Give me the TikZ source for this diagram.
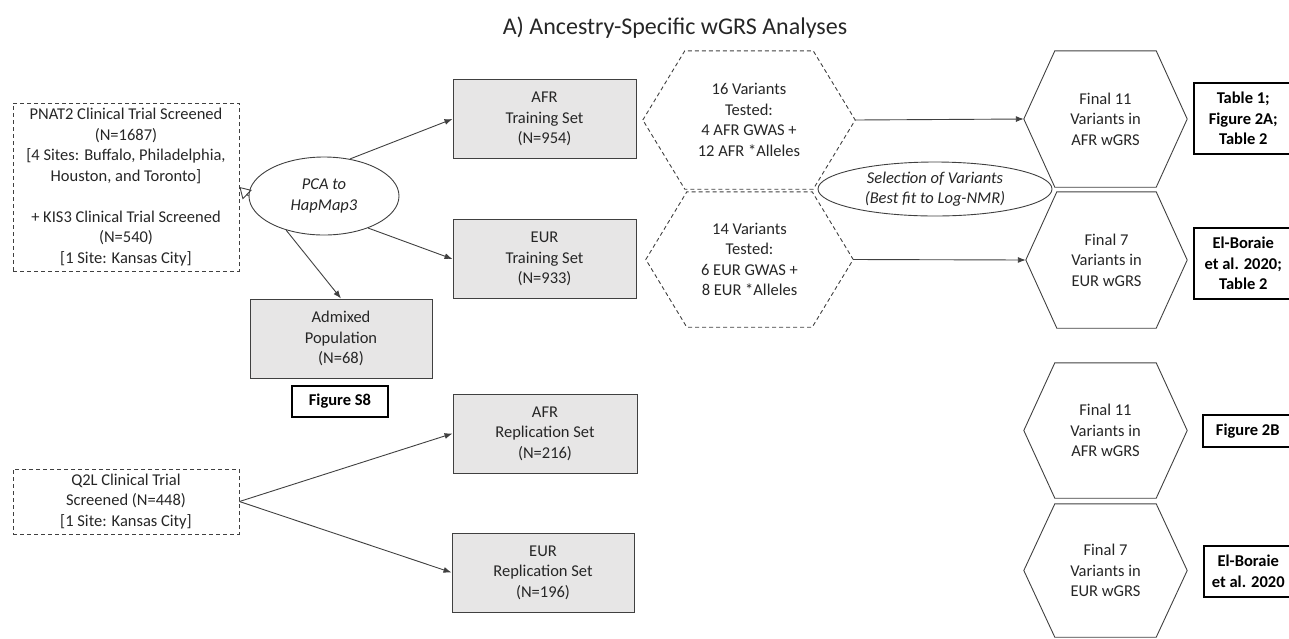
\documentclass[tikz,border=0pt]{standalone}
\usepackage{fontspec}
\setmainfont{Carlito}
\usetikzlibrary{shapes.geometric,arrows.meta}
\definecolor{boxfill}{HTML}{E7E6E6}
\definecolor{edgec}{HTML}{404040}
\definecolor{txt}{HTML}{262626}
\begin{document}
\begin{tikzpicture}[x=1pt,y=-1pt,
  every node/.style={font=\fontsize{16.5}{20.5}\selectfont, text=txt, align=center, inner sep=0pt},
  graybox/.style={draw=edgec, fill=boxfill, line width=1pt, minimum width=183pt, minimum height=79pt},
  dashbox/.style={draw=edgec, dash pattern=on 4pt off 3pt, line width=0.9pt},
  labelbox/.style={draw=black, line width=1.5pt, font=\fontsize{16.5}{20.5}\selectfont\bfseries, text=black, anchor=west},
  hexnode/.style={minimum width=#1},
  conn/.style={draw=edgec, line width=0.9pt, -{Latex[length=8pt,width=6pt]}},
  hexdash/.style={draw=edgec, dash pattern=on 4pt off 3pt, line width=0.9pt},
  hexsolid/.style={draw=edgec, line width=0.9pt}
]
\useasboundingbox (0,0) rectangle (1289,638);

% title
\node[font=\fontsize{24}{28}\selectfont] (title) at (675,28) {A) Ancestry-Specific wGRS Analyses};

% left sources
\node[dashbox, minimum width=226pt, minimum height=168pt] (pnat) at (126,187)
  {PNAT2 Clinical Trial Screened\\(N=1687)\\{[}4 Sites: Buffalo, Philadelphia,\\Houston, and Toronto{]}\\[20.5pt]+ KIS3 Clinical Trial Screened\\(N=540)\\{[}1 Site: Kansas City{]}};
\node[dashbox, minimum width=226pt, minimum height=65pt] (q2l) at (126,501.5)
  {Q2L Clinical Trial\\Screened (N=448)\\{[}1 Site: Kansas City{]}};

% PCA ellipse
\node[ellipse, draw=edgec, fill=white, line width=0.9pt, minimum width=150pt, minimum height=78pt,
  font=\fontsize{16.5}{20.5}\selectfont\itshape] (pca) at (324,196) {PCA to\\HapMap3};

% gray boxes
\node[graybox] (afrtrain) at (544.5,119) {AFR\\Training Set\\(N=954)};
\node[graybox] (eurtrain) at (544.5,259) {EUR\\Training Set\\(N=933)};
\node[graybox, minimum width=182pt] (admix) at (341,338.5) {Admixed\\Population\\(N=68)};
\node[graybox, minimum width=184pt] (afrrep) at (545,433.5) {AFR\\Replication Set\\(N=216)};
\node[graybox, minimum width=182pt] (eurrep) at (543,572.5) {EUR\\Replication Set\\(N=196)};
\node[labelbox, anchor=center, minimum width=96pt, minimum height=31pt] (figs8) at (340,401.5) {Figure S8};

% tested-variant hexagons (dashed)
\node[minimum width=212pt, minimum height=138pt] (afrtest) at (749,120)
  {16 Variants\\Tested:\\4 AFR GWAS +\\12 AFR *Alleles};
\node[minimum width=207pt, minimum height=135pt] (eurtest) at (749.5,259.5)
  {14 Variants\\Tested:\\6 EUR GWAS +\\8 EUR *Alleles};
\foreach \n/\d in {afrtest/42, eurtest/41}
  \draw[hexdash] (\n.west) -- ([xshift=\d pt]\n.north west) -- ([xshift=-\d pt]\n.north east)
    -- (\n.east) -- ([xshift=-\d pt]\n.south east) -- ([xshift=\d pt]\n.south west) -- cycle;

% final hexagons (solid)
\node[minimum width=163pt, minimum height=136pt] (afrfin) at (1105.5,119) {Final 11\\Variants in\\AFR wGRS};
\node[minimum width=161pt, minimum height=136pt] (eurfin) at (1106.5,260) {Final 7\\Variants in\\EUR wGRS};
\node[minimum width=163pt, minimum height=135pt] (afrfinb) at (1105.5,430.5) {Final 11\\Variants in\\AFR wGRS};
\node[minimum width=163pt, minimum height=133pt] (eurfinb) at (1105.5,570.5) {Final 7\\Variants in\\EUR wGRS};
\foreach \n in {afrfin, eurfin, afrfinb, eurfinb}
  \draw[hexsolid] (\n.west) -- ([xshift=31pt]\n.north west) -- ([xshift=-31pt]\n.north east)
    -- (\n.east) -- ([xshift=-31pt]\n.south east) -- ([xshift=31pt]\n.south west) -- cycle;

% selection ellipse
\node[ellipse, draw=edgec, fill=white, line width=0.9pt, minimum width=234pt, minimum height=54pt,
  font=\fontsize{16.5}{20.5}\selectfont\itshape] (sel) at (935,189) {Selection of Variants\\(Best fit to Log-NMR)};

% right label boxes
\node[labelbox, minimum width=99pt, minimum height=71pt] (tab1) at (1193,118.5) {Table 1;\\Figure 2A;\\Table 2};
\node[labelbox, minimum width=99pt, minimum height=71pt] (elb1) at (1193,263.5) {El-Boraie\\et al. 2020;\\Table 2};
\node[labelbox, minimum width=90pt, minimum height=32pt] (fig2b) at (1202,431) {Figure 2B};
\node[labelbox, minimum width=89pt, minimum height=51pt] (elb2) at (1203,571.5) {El-Boraie\\et al. 2020};

% connectors
\draw[conn] (pca.55) -- (afrtrain.west);
\draw[conn] (pca.324) -- (eurtrain.west);
\draw[conn] (pca.222) -- (admix.north);
\draw[draw=edgec, line width=0.9pt, -{Triangle[open,length=11pt,width=13pt]}] (pca.west) -- (pnat.east);
\draw[conn] (q2l.east) -- (afrrep.west);
\draw[conn] (q2l.east) -- (eurrep.west);
\draw[conn] (afrtest.east) -- (afrfin.west);
\draw[conn] (eurtest.east) -- (eurfin.west);
\end{tikzpicture}
\end{document}
